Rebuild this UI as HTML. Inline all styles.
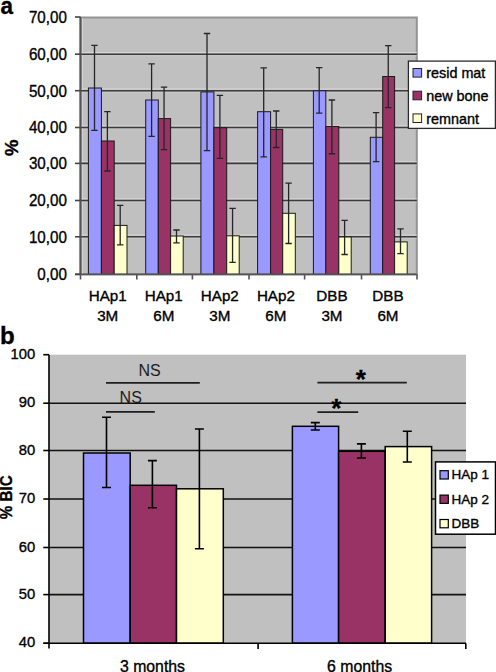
<!DOCTYPE html>
<html><head><meta charset="utf-8"><style>
html,body{margin:0;padding:0;background:#fff;width:496px;height:672px;overflow:hidden}
svg{display:block}
.t{font-family:"Liberation Sans",sans-serif;fill:#000;stroke:#000;stroke-width:0.35px}
</style></head><body>
<svg width="496" height="672" viewBox="0 0 496 672">
<rect x="0" y="0" width="496" height="672" fill="#fff"/>
<rect x="80.5" y="17.5" width="336.3" height="256.8" fill="#c0c0c0" stroke="#939393" stroke-width="2"/>
<line x1="82.4" y1="18.0" x2="82.4" y2="274.3" stroke="#d4d4d4" stroke-width="1"/>
<line x1="80.5" y1="235.10" x2="416.8" y2="235.10" stroke="#d6d6d6" stroke-width="1"/>
<line x1="80.5" y1="238.40" x2="416.8" y2="238.40" stroke="#cbcbcb" stroke-width="0.8"/>
<line x1="80.5" y1="236.80" x2="416.8" y2="236.80" stroke="#3c3c3c" stroke-width="1.6"/>
<line x1="80.5" y1="198.80" x2="416.8" y2="198.80" stroke="#d6d6d6" stroke-width="1"/>
<line x1="80.5" y1="202.10" x2="416.8" y2="202.10" stroke="#cbcbcb" stroke-width="0.8"/>
<line x1="80.5" y1="200.50" x2="416.8" y2="200.50" stroke="#3c3c3c" stroke-width="1.6"/>
<line x1="80.5" y1="161.70" x2="416.8" y2="161.70" stroke="#d6d6d6" stroke-width="1"/>
<line x1="80.5" y1="165.00" x2="416.8" y2="165.00" stroke="#cbcbcb" stroke-width="0.8"/>
<line x1="80.5" y1="163.40" x2="416.8" y2="163.40" stroke="#3c3c3c" stroke-width="1.6"/>
<line x1="80.5" y1="125.80" x2="416.8" y2="125.80" stroke="#d6d6d6" stroke-width="1"/>
<line x1="80.5" y1="129.10" x2="416.8" y2="129.10" stroke="#cbcbcb" stroke-width="0.8"/>
<line x1="80.5" y1="127.50" x2="416.8" y2="127.50" stroke="#3c3c3c" stroke-width="1.6"/>
<line x1="80.5" y1="89.00" x2="416.8" y2="89.00" stroke="#d6d6d6" stroke-width="1"/>
<line x1="80.5" y1="92.30" x2="416.8" y2="92.30" stroke="#cbcbcb" stroke-width="0.8"/>
<line x1="80.5" y1="90.70" x2="416.8" y2="90.70" stroke="#3c3c3c" stroke-width="1.6"/>
<line x1="80.5" y1="52.50" x2="416.8" y2="52.50" stroke="#d6d6d6" stroke-width="1"/>
<line x1="80.5" y1="55.80" x2="416.8" y2="55.80" stroke="#cbcbcb" stroke-width="0.8"/>
<line x1="80.5" y1="54.20" x2="416.8" y2="54.20" stroke="#3c3c3c" stroke-width="1.6"/>
<rect x="88.40" y="88.00" width="13.00" height="186.30" fill="#9999ff" stroke="#1a1a1a" stroke-width="1"/>
<rect x="101.40" y="141.00" width="12.80" height="133.30" fill="#993366" stroke="#1a1a1a" stroke-width="1"/>
<rect x="114.20" y="225.40" width="12.80" height="48.90" fill="#ffffcc" stroke="#1a1a1a" stroke-width="1"/>
<path d="M94.50 45.30V130.30M91.30 45.30H97.70M91.30 130.30H97.70" stroke="#262626" stroke-width="1.3" fill="none"/>
<path d="M107.40 111.70V171.00M104.20 111.70H110.60M104.20 171.00H110.60" stroke="#262626" stroke-width="1.3" fill="none"/>
<path d="M120.20 205.40V244.80M117.00 205.40H123.40M117.00 244.80H123.40" stroke="#262626" stroke-width="1.3" fill="none"/>
<rect x="145.70" y="100.00" width="12.60" height="174.30" fill="#9999ff" stroke="#1a1a1a" stroke-width="1"/>
<rect x="158.30" y="118.60" width="12.30" height="155.70" fill="#993366" stroke="#1a1a1a" stroke-width="1"/>
<rect x="170.60" y="236.00" width="12.60" height="38.30" fill="#ffffcc" stroke="#1a1a1a" stroke-width="1"/>
<path d="M151.60 63.90V136.40M148.40 63.90H154.80M148.40 136.40H154.80" stroke="#262626" stroke-width="1.3" fill="none"/>
<path d="M164.05 87.10V149.60M160.85 87.10H167.25M160.85 149.60H167.25" stroke="#262626" stroke-width="1.3" fill="none"/>
<path d="M176.50 230.00V242.90M173.30 230.00H179.70M173.30 242.90H179.70" stroke="#262626" stroke-width="1.3" fill="none"/>
<rect x="200.90" y="91.90" width="13.00" height="182.40" fill="#9999ff" stroke="#1a1a1a" stroke-width="1"/>
<rect x="213.90" y="127.70" width="12.80" height="146.60" fill="#993366" stroke="#1a1a1a" stroke-width="1"/>
<rect x="226.70" y="235.80" width="12.50" height="38.50" fill="#ffffcc" stroke="#1a1a1a" stroke-width="1"/>
<path d="M207.00 33.50V150.60M203.80 33.50H210.20M203.80 150.60H210.20" stroke="#262626" stroke-width="1.3" fill="none"/>
<path d="M219.90 95.40V158.40M216.70 95.40H223.10M216.70 158.40H223.10" stroke="#262626" stroke-width="1.3" fill="none"/>
<path d="M232.55 208.30V262.30M229.35 208.30H235.75M229.35 262.30H235.75" stroke="#262626" stroke-width="1.3" fill="none"/>
<rect x="257.60" y="111.70" width="13.00" height="162.60" fill="#9999ff" stroke="#1a1a1a" stroke-width="1"/>
<rect x="270.60" y="129.40" width="12.10" height="144.90" fill="#993366" stroke="#1a1a1a" stroke-width="1"/>
<rect x="282.70" y="213.30" width="12.60" height="61.00" fill="#ffffcc" stroke="#1a1a1a" stroke-width="1"/>
<path d="M263.70 67.90V156.90M260.50 67.90H266.90M260.50 156.90H266.90" stroke="#262626" stroke-width="1.3" fill="none"/>
<path d="M276.25 111.00V147.50M273.05 111.00H279.45M273.05 147.50H279.45" stroke="#262626" stroke-width="1.3" fill="none"/>
<path d="M288.60 183.10V243.50M285.40 183.10H291.80M285.40 243.50H291.80" stroke="#262626" stroke-width="1.3" fill="none"/>
<rect x="313.40" y="90.80" width="12.40" height="183.50" fill="#9999ff" stroke="#1a1a1a" stroke-width="1"/>
<rect x="325.80" y="126.50" width="13.00" height="147.80" fill="#993366" stroke="#1a1a1a" stroke-width="1"/>
<rect x="338.80" y="237.00" width="12.40" height="37.30" fill="#ffffcc" stroke="#1a1a1a" stroke-width="1"/>
<path d="M319.20 67.70V113.10M316.00 67.70H322.40M316.00 113.10H322.40" stroke="#262626" stroke-width="1.3" fill="none"/>
<path d="M331.90 100.00V153.75M328.70 100.00H335.10M328.70 153.75H335.10" stroke="#262626" stroke-width="1.3" fill="none"/>
<path d="M344.60 220.30V254.50M341.40 220.30H347.80M341.40 254.50H347.80" stroke="#262626" stroke-width="1.3" fill="none"/>
<rect x="370.30" y="137.30" width="12.40" height="137.00" fill="#9999ff" stroke="#1a1a1a" stroke-width="1"/>
<rect x="382.70" y="76.50" width="11.90" height="197.80" fill="#993366" stroke="#1a1a1a" stroke-width="1"/>
<rect x="394.60" y="241.90" width="12.60" height="32.40" fill="#ffffcc" stroke="#1a1a1a" stroke-width="1"/>
<path d="M376.10 112.70V161.70M372.90 112.70H379.30M372.90 161.70H379.30" stroke="#262626" stroke-width="1.3" fill="none"/>
<path d="M388.25 45.70V107.70M385.05 45.70H391.45M385.05 107.70H391.45" stroke="#262626" stroke-width="1.3" fill="none"/>
<path d="M400.50 228.80V253.70M397.30 228.80H403.70M397.30 253.70H403.70" stroke="#262626" stroke-width="1.3" fill="none"/>
<path d="M80.5 17.0V274.3" stroke="#555" stroke-width="2"/>
<path d="M75 274.3H416.8" stroke="#555" stroke-width="1.8"/>
<path d="M75 274.30H80.5" stroke="#444" stroke-width="1.6"/>
<path d="M75 236.80H80.5" stroke="#444" stroke-width="1.6"/>
<path d="M75 200.50H80.5" stroke="#444" stroke-width="1.6"/>
<path d="M75 163.40H80.5" stroke="#444" stroke-width="1.6"/>
<path d="M75 127.50H80.5" stroke="#444" stroke-width="1.6"/>
<path d="M75 90.70H80.5" stroke="#444" stroke-width="1.6"/>
<path d="M75 54.20H80.5" stroke="#444" stroke-width="1.6"/>
<path d="M75 17.00H80.5" stroke="#444" stroke-width="1.6"/>
<path d="M80.50 274.3V279.5" stroke="#555" stroke-width="1.6"/>
<path d="M136.80 274.3V279.5" stroke="#555" stroke-width="1.6"/>
<path d="M192.40 274.3V279.5" stroke="#555" stroke-width="1.6"/>
<path d="M249.00 274.3V279.5" stroke="#555" stroke-width="1.6"/>
<path d="M304.60 274.3V279.5" stroke="#555" stroke-width="1.6"/>
<path d="M361.50 274.3V279.5" stroke="#555" stroke-width="1.6"/>
<path d="M417.00 274.3V279.5" stroke="#555" stroke-width="1.6"/>
<text transform="translate(66.9,280.10) scale(0.915,1)" text-anchor="end" font-size="16.6" class="t">0,00</text>
<text transform="translate(66.9,242.60) scale(0.915,1)" text-anchor="end" font-size="16.6" class="t">10,00</text>
<text transform="translate(66.9,206.30) scale(0.915,1)" text-anchor="end" font-size="16.6" class="t">20,00</text>
<text transform="translate(66.9,169.20) scale(0.915,1)" text-anchor="end" font-size="16.6" class="t">30,00</text>
<text transform="translate(66.9,133.30) scale(0.915,1)" text-anchor="end" font-size="16.6" class="t">40,00</text>
<text transform="translate(66.9,96.50) scale(0.915,1)" text-anchor="end" font-size="16.6" class="t">50,00</text>
<text transform="translate(66.9,60.00) scale(0.915,1)" text-anchor="end" font-size="16.6" class="t">60,00</text>
<text transform="translate(66.9,22.80) scale(0.915,1)" text-anchor="end" font-size="16.6" class="t">70,00</text>
<text x="107.73" y="301.3" text-anchor="middle" font-size="15.2" class="t">HAp1</text>
<text x="107.73" y="320.6" text-anchor="middle" font-size="15.2" class="t">3M</text>
<text x="163.78" y="301.3" text-anchor="middle" font-size="15.2" class="t">HAp1</text>
<text x="163.78" y="320.6" text-anchor="middle" font-size="15.2" class="t">6M</text>
<text x="219.83" y="301.3" text-anchor="middle" font-size="15.2" class="t">HAp2</text>
<text x="219.83" y="320.6" text-anchor="middle" font-size="15.2" class="t">3M</text>
<text x="275.88" y="301.3" text-anchor="middle" font-size="15.2" class="t">HAp2</text>
<text x="275.88" y="320.6" text-anchor="middle" font-size="15.2" class="t">6M</text>
<text x="331.93" y="301.3" text-anchor="middle" font-size="15.2" class="t">DBB</text>
<text x="331.93" y="320.6" text-anchor="middle" font-size="15.2" class="t">3M</text>
<text x="387.97" y="301.3" text-anchor="middle" font-size="15.2" class="t">DBB</text>
<text x="387.97" y="320.6" text-anchor="middle" font-size="15.2" class="t">6M</text>
<text transform="translate(17.6,147.9) rotate(-90)" text-anchor="middle" font-size="18.5" font-weight="bold" class="t">%</text>
<text transform="translate(0.4,13.8) scale(0.92,1)" font-size="24.5" font-weight="bold" class="t">a</text>
<rect x="408.4" y="61.1" width="87" height="67.3" fill="#fff" stroke="#2a2a2a" stroke-width="1.3"/>
<rect x="413" y="68.50" width="8.6" height="8.6" fill="#9999ff" stroke="#222" stroke-width="1"/>
<text x="426.2" y="78.10" font-size="14.4" class="t">resid mat</text>
<rect x="413" y="91.20" width="8.6" height="8.6" fill="#993366" stroke="#222" stroke-width="1"/>
<text x="426.2" y="100.80" font-size="14.4" class="t">new bone</text>
<rect x="413" y="113.90" width="8.6" height="8.6" fill="#ffffcc" stroke="#222" stroke-width="1"/>
<text x="426.2" y="123.50" font-size="14.4" class="t">remnant</text>
<rect x="49" y="354.7" width="417" height="288.50000000000006" fill="#c0c0c0"/>
<line x1="49" y1="594.60" x2="466" y2="594.60" stroke="#111" stroke-width="1.6"/>
<line x1="49" y1="547.50" x2="466" y2="547.50" stroke="#111" stroke-width="1.6"/>
<line x1="49" y1="499.00" x2="466" y2="499.00" stroke="#111" stroke-width="1.6"/>
<line x1="49" y1="450.50" x2="466" y2="450.50" stroke="#111" stroke-width="1.6"/>
<line x1="49" y1="403.20" x2="466" y2="403.20" stroke="#111" stroke-width="1.6"/>
<rect x="83.50" y="453.00" width="46.70" height="190.20" fill="#9999ff" stroke="#000" stroke-width="1.5"/>
<rect x="130.20" y="485.30" width="46.30" height="157.90" fill="#993366" stroke="#000" stroke-width="1.5"/>
<rect x="176.50" y="488.80" width="46.80" height="154.40" fill="#ffffcc" stroke="#000" stroke-width="1.5"/>
<path d="M106.50 417.30V487.50M102.00 417.30H111.00M102.00 487.50H111.00" stroke="#000" stroke-width="1.6" fill="none"/>
<path d="M152.40 460.60V507.70M147.90 460.60H156.90M147.90 507.70H156.90" stroke="#000" stroke-width="1.6" fill="none"/>
<path d="M199.40 429.00V548.80M194.90 429.00H203.90M194.90 548.80H203.90" stroke="#000" stroke-width="1.6" fill="none"/>
<rect x="292.40" y="426.30" width="46.20" height="216.90" fill="#9999ff" stroke="#000" stroke-width="1.5"/>
<rect x="338.60" y="451.30" width="46.60" height="191.90" fill="#993366" stroke="#000" stroke-width="1.5"/>
<rect x="385.20" y="446.60" width="46.40" height="196.60" fill="#ffffcc" stroke="#000" stroke-width="1.5"/>
<path d="M315.30 422.60V430.00M310.80 422.60H319.80M310.80 430.00H319.80" stroke="#000" stroke-width="1.6" fill="none"/>
<path d="M361.40 443.90V458.00M356.90 443.90H365.90M356.90 458.00H365.90" stroke="#000" stroke-width="1.6" fill="none"/>
<path d="M407.30 431.30V462.00M402.80 431.30H411.80M402.80 462.00H411.80" stroke="#000" stroke-width="1.6" fill="none"/>
<path d="M49 354.7V648.5" stroke="#000" stroke-width="1.6"/>
<path d="M43.3 643.2H466" stroke="#000" stroke-width="1.6"/>
<path d="M43.3 643.20H49" stroke="#000" stroke-width="1.6"/>
<path d="M43.3 594.60H49" stroke="#000" stroke-width="1.6"/>
<path d="M43.3 547.50H49" stroke="#000" stroke-width="1.6"/>
<path d="M43.3 499.00H49" stroke="#000" stroke-width="1.6"/>
<path d="M43.3 450.50H49" stroke="#000" stroke-width="1.6"/>
<path d="M43.3 403.20H49" stroke="#000" stroke-width="1.6"/>
<path d="M43.3 354.70H49" stroke="#000" stroke-width="1.6"/>
<path d="M258.1 643.2V649" stroke="#000" stroke-width="1.6"/>
<path d="M465.8 643.2V649" stroke="#000" stroke-width="1.6"/>
<text transform="translate(35.2,647.30) scale(0.96,1)" text-anchor="end" font-size="15.4" class="t">40</text>
<text transform="translate(35.2,598.70) scale(0.96,1)" text-anchor="end" font-size="15.4" class="t">50</text>
<text transform="translate(35.2,551.60) scale(0.96,1)" text-anchor="end" font-size="15.4" class="t">60</text>
<text transform="translate(35.2,503.10) scale(0.96,1)" text-anchor="end" font-size="15.4" class="t">70</text>
<text transform="translate(35.2,454.60) scale(0.96,1)" text-anchor="end" font-size="15.4" class="t">80</text>
<text transform="translate(35.2,407.30) scale(0.96,1)" text-anchor="end" font-size="15.4" class="t">90</text>
<text transform="translate(35.2,358.80) scale(0.96,1)" text-anchor="end" font-size="15.4" class="t">100</text>
<text x="152.5" y="671.5" text-anchor="middle" font-size="15.8" class="t">3 months</text>
<text x="359.6" y="671.5" text-anchor="middle" font-size="15.8" class="t">6 months</text>
<text transform="translate(11.8,497.3) rotate(-90) scale(0.89,1)" text-anchor="middle" font-size="17" font-weight="bold" class="t">% BIC</text>
<text x="0.1" y="344.2" font-size="24" font-weight="bold" class="t">b</text>
<path d="M106 382.8H199.8M106 411.9H154.8M317.4 382.7H406.8M317.4 412.1H358.2" stroke="#1e1e1e" stroke-width="1.7"/>
<text x="149.6" y="375.5" text-anchor="middle" font-size="16" class="t" style="fill:#1c1c1c;stroke:none">NS</text>
<text x="130.7" y="402.6" text-anchor="middle" font-size="16" class="t" style="fill:#1c1c1c;stroke:none">NS</text>
<text x="360.7" y="387.6" text-anchor="middle" font-size="26" font-weight="bold" class="t">*</text>
<text x="336.2" y="417.1" text-anchor="middle" font-size="26" font-weight="bold" class="t">*</text>
<rect x="435.5" y="461.9" width="60" height="72.3" fill="#fff" stroke="#000" stroke-width="1.5"/>
<rect x="440" y="470.70" width="8.3" height="8.3" fill="#9999ff" stroke="#000" stroke-width="1.2"/>
<text x="451.5" y="479.30" font-size="13.5" class="t">HAp 1</text>
<rect x="440" y="495.10" width="8.3" height="8.3" fill="#993366" stroke="#000" stroke-width="1.2"/>
<text x="451.5" y="503.70" font-size="13.5" class="t">HAp 2</text>
<rect x="440" y="519.50" width="8.3" height="8.3" fill="#ffffcc" stroke="#000" stroke-width="1.2"/>
<text x="451.5" y="528.10" font-size="13.5" class="t">DBB</text>
</svg>
</body></html>
